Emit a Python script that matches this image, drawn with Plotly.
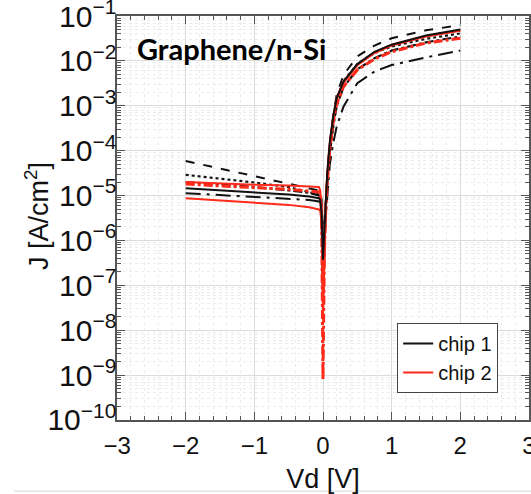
import plotly.graph_objects as go

# Shared bias grid (V)
vd = [-2.0, -1.5, -1.0, -0.5, -0.2, -0.1, -0.06, -0.04, -0.02, 0.0, 0.02,
      0.04, 0.06, 0.08, 0.1, 0.15, 0.2, 0.3, 0.5, 0.75, 1.0, 1.5, 2.0]

# chip 1 (black) current densities, A/cm^2
chip1_solid = [1.45e-5, 1.3e-5, 1.18e-5, 1.05e-5, 9.5e-6, 9e-6, 8.7e-6, 8e-6, 4e-6, 3.7e-7, 2e-6,
               9e-6, 2.8e-5, 7e-5, 1.6e-4, 6e-4, 1.5e-3, 3.5e-3, 8.5e-3, 1.6e-2, 2.3e-2, 3.7e-2, 5.0e-2]
chip1_longdash = [5.9e-5, 4.0e-5, 2.7e-5, 1.8e-5, 1.45e-5, 1.34e-5, 1.3e-5, 1.2e-5, 8e-6, 1e-6, 1.5e-6,
                  8e-6, 2.5e-5, 6e-5, 1.5e-4, 6e-4, 1.8e-3, 4.9e-3, 1.26e-2, 2.2e-2, 3.2e-2, 4.8e-2, 6.3e-2]
chip1_dot = [2.9e-5, 2.4e-5, 1.95e-5, 1.55e-5, 1.2e-5, 1.1e-5, 1.05e-5, 9.5e-6, 5e-6, 2e-6, 2e-6,
             7e-6, 2.2e-5, 5.5e-5, 1.3e-4, 5e-4, 1.4e-3, 3.6e-3, 8.5e-3, 1.5e-2, 2.1e-2, 3.1e-2, 4.1e-2]
chip1_dashdot = [2.0e-5, 1.75e-5, 1.55e-5, 1.3e-5, 1.15e-5, 1.05e-5, 1.0e-5, 9e-6, 4e-6, 6e-8, 1e-6,
                 5e-6, 1.7e-5, 4e-5, 9e-5, 3.5e-4, 1.0e-3, 2.6e-3, 6.5e-3, 1.15e-2, 1.7e-2, 2.6e-2, 3.5e-2]
chip1_longdashdot = [1.13e-5, 1.03e-5, 9.5e-6, 8.7e-6, 8e-6, 7.6e-6, 7.4e-6, 7e-6, 3e-6, 5e-7, 1e-6,
                     3.5e-6, 9e-6, 2e-5, 5e-5, 1.5e-4, 3.5e-4, 9.7e-4, 3.2e-3, 5.8e-3, 8.1e-3, 1.2e-2, 1.7e-2]

# chip 2 (red) current densities, A/cm^2
chip2_solid = [8.7e-6, 7.8e-6, 7e-6, 6.2e-6, 5.5e-6, 5.1e-6, 4.9e-6, 4.5e-6, 2.5e-6, 5e-8, 8e-7,
               7e-6, 2.6e-5, 6.5e-5, 1.5e-4, 5.8e-4, 1.5e-3, 3.5e-3, 8.3e-3, 1.55e-2, 2.3e-2, 3.6e-2, 4.8e-2]
chip2_upper = [2.0e-5, 1.85e-5, 1.75e-5, 1.68e-5, 1.62e-5, 1.6e-5, 1.55e-5, 1.3e-5, 5e-6, 2e-8, 5e-7,
               6e-6, 2.5e-5, 6e-5, 1.4e-4, 5.5e-4, 1.4e-3, 3.3e-3, 8e-3, 1.5e-2, 2.2e-2, 3.5e-2, 4.7e-2]
chip2_dashdot = [1.8e-5, 1.62e-5, 1.5e-5, 1.38e-5, 1.28e-5, 1.22e-5, 1.2e-5, 1.1e-5, 4e-6, 8e-10, 5e-7,
                 5e-6, 2e-5, 5e-5, 1.1e-4, 4.5e-4, 1.1e-3, 2.7e-3, 6.3e-3, 1.1e-2, 1.6e-2, 2.5e-2, 3.2e-2]

BLACK = "#111111"
RED = "#ff2a1a"

series = [
    ("chip 1", chip1_longdash, BLACK, "dash", 2, False),
    ("chip 1", chip1_dot, BLACK, "dot", 2.2, False),
    ("chip 1", chip1_dashdot, BLACK, "dashdot", 2.2, False),
    ("chip 1", chip1_longdashdot, BLACK, "longdashdot", 2, False),
    ("chip 2", chip2_upper, RED, "solid", 2, False),
    ("chip 2", chip2_dashdot, RED, "dashdot", 3, False),
    ("chip 2", chip2_solid, RED, "solid", 2, True),
    ("chip 1", chip1_solid, BLACK, "solid", 2, True),
]

fig = go.Figure()
for name, ys, col, dash, w, leg in series:
    fig.add_trace(go.Scatter(x=vd, y=ys, mode="lines", name=name, legendgroup=name,
                             showlegend=leg, line=dict(color=col, dash=dash, width=w)))

# legend order: chip 1 then chip 2
fig.data[-1].legendrank = 1
fig.data[-2].legendrank = 2

axis_common = dict(showline=True, linecolor="#555555", linewidth=1.5, mirror="ticks",
                   ticks="inside", ticklen=8, tickcolor="#555555", tickwidth=1,
                   showgrid=True, gridcolor="#dcdcdc", gridwidth=1, zeroline=False,
                   ticklabeloverflow="allow", automargin=False,
                   tickfont=dict(family="Liberation Sans", size=24, color="#111111"))

fig.update_layout(
    width=531, height=494,
    margin=dict(l=117, r=2, t=16, b=74),
    paper_bgcolor="white", plot_bgcolor="white",
    font=dict(family="Liberation Sans", color="#111111"),
    xaxis=dict(range=[-3.001, 3.001], tick0=0, dtick=1, tickformat="d",
               title=dict(text="Vd [V]", font=dict(size=27), standoff=17),
               minor=dict(dtick=0.2, ticks="inside", ticklen=4, tickcolor="#555555",
                          showgrid=True, gridcolor="#ececec", griddash="dot"),
               ticklabelstandoff=3,
               **axis_common),
    yaxis=dict(type="log", range=[-10.001, -0.999], dtick=1, exponentformat="power", showexponent="all",
               minor=dict(ticks="inside", ticklen=4, tickcolor="#555555",
                          showgrid=True, gridcolor="#ececec", griddash="dot"),
               ticklabelstandoff=-6,
               **axis_common),
    legend=dict(x=0.68, y=0.24, xanchor="left", yanchor="top",
                bgcolor="white", bordercolor="#444444", borderwidth=1,
                font=dict(family="Liberation Sans", size=20, color="#111111"),
                traceorder="normal", tracegroupgap=0),
    shapes=[
        dict(type="rect", xref="paper", yref="paper", x0=0.003, x1=0.558, y0=0.847, y1=0.998,
             fillcolor="white", line=dict(width=0), layer="below"),
        dict(type="line", xref="paper", yref="paper", x0=-0.25, x1=1.01, y0=-0.176, y1=-0.176,
             line=dict(color="#d8d8d8", width=1)),
    ],
    annotations=[
        dict(text="<b>Graphene/n-Si</b>", xref="paper", yref="paper", x=0.279, y=0.9205,
             showarrow=False, xanchor="center", yanchor="middle",
             font=dict(family="Lato", size=29, color="black")),
        dict(text="J [A/cm<sup>2</sup>]", xref="paper", yref="paper", x=-0.194, y=0.505,
             textangle=-90, showarrow=False, xanchor="center", yanchor="middle",
             font=dict(family="Liberation Sans", size=27, color="#111111")),
    ],
)

fig.write_html("out.html", config={"displayModeBar": False},
               post_script="document.body.style.margin='0';")
